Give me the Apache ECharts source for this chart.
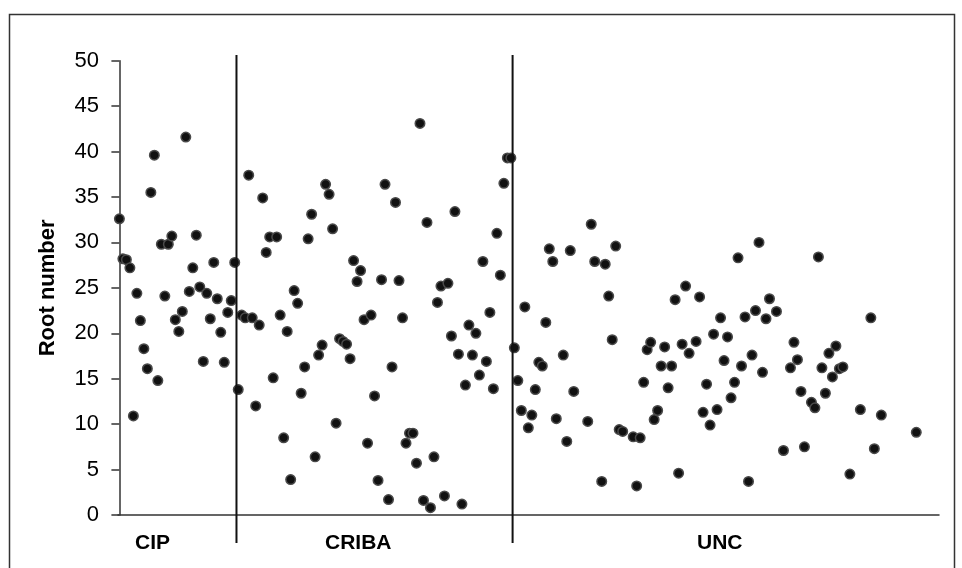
<!DOCTYPE html>
<html>
<head>
<meta charset="utf-8">
<script src="https://cdn.jsdelivr.net/npm/echarts@6/dist/echarts.min.js"></script>
<style>
  html, body { margin: 0; padding: 0; background: #fff; }
  #chart { width: 962px; height: 568px; }
</style>
</head>
<body>
<div id="chart"></div>
<script>
// group names, in the order they run along the x axis
const groups = ["CIP", "CRIBA", "UNC"];

// root number per plant (null = gap in the row)
const cip = [32.6, 28.2, 28.1, 27.2, 10.9, 24.4, 21.4, 18.3, 16.1, 35.5,
    39.6, 14.8, 29.8, 24.1, 29.8, 30.7, 21.5, 20.2, 22.4, 41.6,
    24.6, 27.2, 30.8, 25.1, 16.9, 24.4, 21.6, 27.8, 23.8, 20.1,
    16.8, 22.3, 23.6, 27.8];

const criba = [13.8, 22.0, 21.7, 37.4, 21.7, 12.0, 20.9, 34.9, 28.9, 30.6,
    15.1, 30.6, 22.0, 8.5, 20.2, 3.9, 24.7, 23.3, 13.4, 16.3,
    30.4, 33.1, 6.4, 17.6, 18.7, 36.4, 35.3, 31.5, 10.1, 19.4,
    19.1, 18.8, 17.2, 28.0, 25.7, 26.9, 21.5, 7.9, 22.0, 13.1,
    3.8, 25.9, 36.4, 1.7, 16.3, 34.4, 25.8, 21.7, 7.9, 9.0,
    9.0, 5.7, 43.1, 1.6, 32.2, 0.8, 6.4, 23.4, 25.2, 2.1,
    25.5, 19.7, 33.4, 17.7, 1.2, 14.3, 20.9, 17.6, 20.0, 15.4,
    27.9, 16.9, 22.3, 13.9, 31.0, 26.4, 36.5, 39.3, 39.3];

const unc = [18.4, 14.8, 11.5, 22.9, 9.6, 11.0, 13.8, 16.8, 16.4, 21.2,
    29.3, 27.9, 10.6, null, 17.6, 8.1, 29.1, 13.6, null, null,
    null, 10.3, 32.0, 27.9, null, 3.7, 27.6, 24.1, 19.3, 29.6,
    9.4, 9.2, null, null, 8.6, 3.2, 8.5, 14.6, 18.2, 19.0,
    10.5, 11.5, 16.4, 18.5, 14.0, 16.4, 23.7, 4.6, 18.8, 25.2,
    17.8, null, 19.1, 24.0, 11.3, 14.4, 9.9, 19.9, 11.6, 21.7,
    17.0, 19.6, 12.9, 14.6, 28.3, 16.4, 21.8, 3.7, 17.6, 22.5,
    30.0, 15.7, 21.6, 23.8, null, 22.4, null, 7.1, null, 16.2,
    19.0, 17.1, 13.6, 7.5, null, 12.4, 11.8, 28.4, 16.2, 13.4,
    17.8, 15.2, 18.6, 16.1, 16.3, null, 4.5, null, null, 11.6,
    null, null, 21.7, 7.3, null, 11.0, null, null, null, null,
    null, null, null, null, null, 9.1];

const yTicks = [0, 5, 10, 15, 20, 25, 30, 35, 40, 45, 50];

const allValues = cip.concat(criba, unc);
const points = [];
allValues.forEach((v, i) => {
    if (v !== null) points.push([i, v]);
});

// separators sit half a step after the last plant of a group
const cut1 = cip.length - 0.5;
const cut2 = cip.length + criba.length - 0.5;

const xMin = -0.4, xMax = 234.5;
const axisColor = '#333';

const chart = echarts.init(document.getElementById('chart'));
chart.setOption({
    animation: false,
    backgroundColor: '#fff',
    grid: [
        { left: 118, right: 23, top: 60.7, bottom: 53 },
        { left: 118, right: 23, top: 55, bottom: 25 }
    ],
    xAxis: [
        {
            type: 'value', gridIndex: 0, min: xMin, max: xMax,
            axisLine: { show: true, onZero: false, lineStyle: { color: axisColor, width: 1.5 } },
            axisTick: { show: false }, axisLabel: { show: false }, splitLine: { show: false }
        },
        {
            type: 'value', gridIndex: 1, min: xMin, max: xMax, show: false
        }
    ],
    yAxis: [
        {
            type: 'value', gridIndex: 0, min: yTicks[0], max: yTicks[yTicks.length - 1], interval: 5,
            name: 'Root number', nameLocation: 'middle', nameGap: 59,
            nameTextStyle: { fontFamily: 'Liberation Sans', fontSize: 22, fontWeight: 'bold', color: '#000' },
            axisLine: { show: true, lineStyle: { color: axisColor, width: 1.5 } },
            axisTick: { show: true, inside: false, length: 8, lineStyle: { color: axisColor, width: 1.5 } },
            axisLabel: { margin: 19, fontFamily: 'Liberation Sans', fontSize: 22, color: '#000' },
            splitLine: { show: false }
        },
        {
            type: 'value', gridIndex: 1, min: 0, max: 1, show: false
        }
    ],
    series: [
        {
            type: 'scatter', xAxisIndex: 0, yAxisIndex: 0,
            data: points, symbolSize: 9.5,
            itemStyle: { color: '#111', borderColor: '#4a4a4a', borderWidth: 1.5, opacity: 1 }
        },
        {
            type: 'line', xAxisIndex: 1, yAxisIndex: 1, symbol: 'none',
            data: [[cut1, 0], [cut1, 1], [null, null], [cut2, 0], [cut2, 1]],
            connectNulls: false,
            lineStyle: { color: '#111', width: 2 }
        }
    ],
    graphic: [
        {
            type: 'rect', silent: true,
            shape: { x: 9.5, y: 14.5, width: 945, height: 600 },
            style: { fill: null, stroke: '#333', lineWidth: 1.5 }
        },
        {
            type: 'text', left: 135, top: 533,
            style: { text: groups[0], font: 'bold 21px "Liberation Sans"', fill: '#000' }
        },
        {
            type: 'text', left: 325, top: 533,
            style: { text: groups[1], font: 'bold 21px "Liberation Sans"', fill: '#000' }
        },
        {
            type: 'text', left: 697, top: 533,
            style: { text: groups[2], font: 'bold 21px "Liberation Sans"', fill: '#000' }
        }
    ]
});
</script>
</body>
</html>
